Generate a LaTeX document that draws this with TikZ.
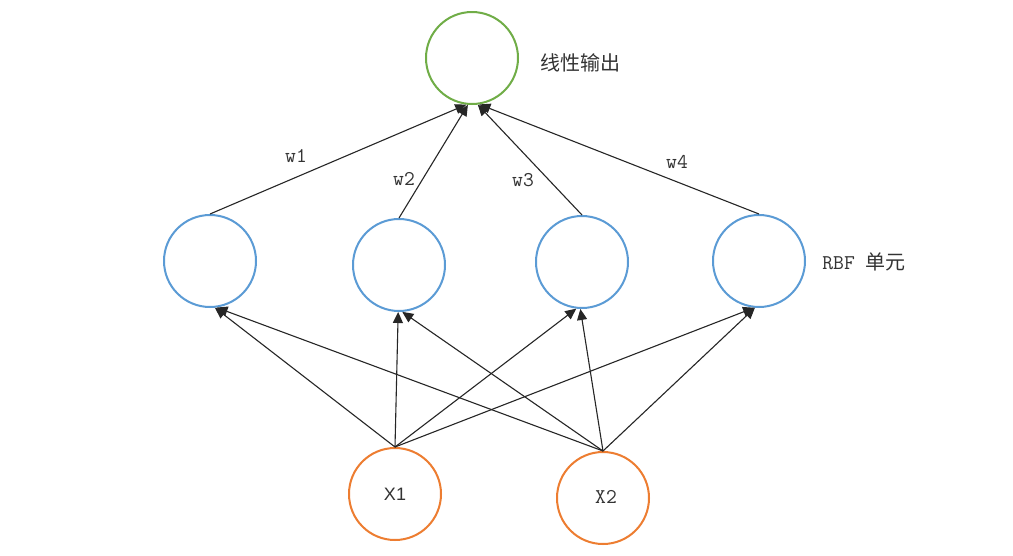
\documentclass[tikz,border=0pt]{standalone}
\usepackage{fontspec}
\newfontfamily\cjk{Noto Sans CJK SC}
\newfontfamily\lsans{Liberation Sans}
\usetikzlibrary{arrows.meta}
\definecolor{cgreen}{HTML}{70AD47}
\definecolor{cblue}{HTML}{5B9BD5}
\definecolor{corange}{HTML}{ED7D31}
\definecolor{ctext}{HTML}{333333}
\begin{document}
\begin{tikzpicture}[x=1pt,y=-1pt,
  neuron/.style={circle,draw,line width=2pt,minimum size=92pt,inner sep=0pt,fill=white},
  outn/.style={neuron,draw=cgreen},
  rbfn/.style={neuron,draw=cblue},
  inn/.style={neuron,draw=corange},
  conn/.style={draw=black!85,line width=1.1pt,-{Triangle[length=11pt,width=10pt]}},
  lbl/.style={text=ctext,inner sep=0pt,font=\fontsize{21pt}{25pt}\selectfont\ttfamily},
  cjklbl/.style={text=ctext,inner sep=0pt,font=\fontsize{20pt}{24pt}\selectfont\cjk}]
\useasboundingbox[fill=white] (0,0) rectangle (1013,555);
% nodes
\node[outn] (out) at (472,58) {};
\node[rbfn] (r1) at (210,261) {};
\node[rbfn] (r2) at (399,265) {};
\node[rbfn] (r3) at (582,262) {};
\node[rbfn] (r4) at (759,261) {};
\node[inn] (x1) at (395,494) {};
\node[inn] (x2) at (603,498) {};
% connectors to output
\draw[conn] (r1.north) -- (out.-97);
\draw[conn] (r2.north) -- (out.-95);
\draw[conn] (r3.north) -- (out.-83);
\draw[conn] (r4.north) -- (out.-81);
% connectors from inputs
\draw[conn] (x1.north) -- (r1.-84);
\draw[conn] (x1.north) -- (r2.-91);
\draw[conn] (x1.north) -- (r3.-97);
\draw[conn] (x1.north) -- (r4.-96);
\draw[conn] (x2.north) -- (r1.-82);
\draw[conn] (x2.north) -- (r2.-86);
\draw[conn] (x2.north) -- (r3.-92);
\draw[conn] (x2.north) -- (r4.-95);
% labels
\node[lbl] (w1) at (296,156) {w1};
\node[lbl] (w2) at (404,179) {w2};
\node[lbl] (w3) at (523,180) {w3};
\node[lbl] (w4) at (677,162) {w4};
\node[cjklbl] (tout) at (580,63) {线性输出};
\node[lbl] (trbf) at (864,262) {RBF {\cjk\fontsize{20pt}{24pt}\selectfont 单元}};
\node[text=ctext,inner sep=0pt,font=\fontsize{18pt}{21pt}\selectfont\lsans] at (x1) {X1};
\node[lbl] at ([xshift=3pt,yshift=1pt]x2.center) {X2};
\end{tikzpicture}
\end{document}
